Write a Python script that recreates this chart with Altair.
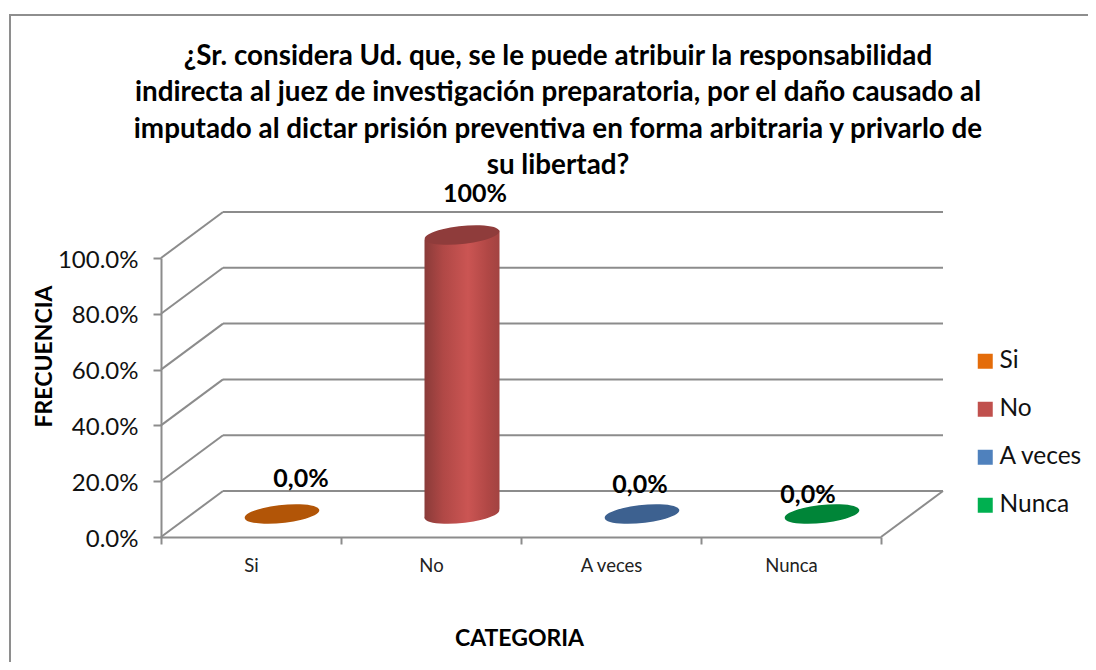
import math
import altair as alt
import pandas as pd

categories = ["Si", "No", "A veces", "Nunca"]
values = [0.0, 1.0, 0.0, 0.0]
label_texts = ["0,0%", "100%", "0,0%", "0,0%"]
legend_colors = ["#E46C0A", "#C0504D", "#4F81BD", "#00B050"]
disc_colors = ["#B25507", "#8F3C3B", "#3D6190", "#008538"]
levels = [0.0, 0.2, 0.4, 0.6, 0.8, 1.0]
title_lines = [
    "¿Sr. considera Ud. que, se le puede atribuir la responsabilidad",
    "indirecta al juez de investigación preparatoria, por el daño causado al",
    "imputado al dictar prisión preventiva en forma arbitraria y privarlo de",
    "su libertad?",
]

FONT = "Lato"
GRID = "#8C8C8C"
DEPTH_X = 62 / 180
DEPTH_Y = 46 / 279
HALF_W = 37.5 / 180
TILT_Y = 4.5 / 279

xq = alt.Scale(domain=[0, 4], nice=False, zero=False)
yq = alt.Scale(domain=[0, 1], nice=False, zero=False)

y_axis = alt.Axis(values=levels, format=".1%", labelFont=FONT, labelFontSize=24, labelColor="#111111",
                  labelPadding=15, labelOffset=2, tickSize=8, tickColor=GRID, tickWidth=2, domainColor=GRID,
                  domainWidth=2, grid=False, titleFont=FONT, titleFontSize=23, titleFontWeight="bold",
                  titleColor="#000000", titleX=-117, titleY=98, titleBaseline="middle", titleAngle=270,
                  titleAnchor="middle")

def X(f):
    return alt.X(f, type="quantitative", scale=xq, axis=None)

def Y(f):
    return alt.Y(f, type="quantitative", scale=yq, title="FRECUENCIA", axis=y_axis)

th = math.radians(6)
ex, ey = math.cos(th), math.sin(th)
DISC = f"M{-ex:.4f},{ey:.4f}A1,0.24,-6,1,1,{ex:.4f},{-ey:.4f}A1,0.24,-6,1,1,{-ex:.4f},{ey:.4f}Z"
DISC_SIZE = 75 ** 2

df = pd.DataFrame({"cat": categories, "v": values, "label": label_texts, "i": range(4)})
df["cx"] = df.i + 0.5 + DEPTH_X / 2
df["cy"] = df.v + DEPTH_Y / 2

back = pd.DataFrame({"y": [l + DEPTH_Y for l in levels], "x": DEPTH_X, "x2": 4 + DEPTH_X})
side = pd.DataFrame({"y": levels, "x": 0.0, "x2": DEPTH_X, "y2": [l + DEPTH_Y for l in levels]})
right = pd.DataFrame({"y": [0.0], "x": [4.0], "x2": [4 + DEPTH_X], "y2": [DEPTH_Y]})

back_l = alt.Chart(back).mark_rule(color=GRID, strokeWidth=2).encode(x=X("x"), x2="x2", y=Y("y"))
side_l = alt.Chart(side).mark_rule(color=GRID, strokeWidth=2).encode(x=X("x"), x2="x2", y=Y("y"), y2="y2")
right_l = alt.Chart(right).mark_rule(color=GRID, strokeWidth=2).encode(x=X("x"), x2="x2", y=Y("y"), y2="y2")

frame_v = alt.Chart(pd.DataFrame({"a": [0]})).mark_rule(color="#8E8E8E", strokeWidth=2).encode(
    x=alt.value(-151), y=alt.value(-243), y2=alt.value(404))
frame_h = alt.Chart(pd.DataFrame({"a": [0]})).mark_rule(color="#8E8E8E", strokeWidth=2).encode(
    x=alt.value(-152), x2=alt.value(927), y=alt.value(-243))

# x axis on a band scale, ticks between the categories
axis_l = alt.Chart(df).mark_point(opacity=0).encode(
    x=alt.X("cat:N", sort=categories, title="CATEGORIA",
            scale=alt.Scale(type="band", domain=categories, paddingInner=0, paddingOuter=0),
            axis=alt.Axis(tickBand="extent", labelAngle=0, labelFont=FONT, labelFontSize=18.5, labelColor="#222222",
                          labelPadding=12, tickSize=7, tickColor=GRID, tickWidth=2, domainColor=GRID, domainWidth=2,
                          grid=False, titleFont=FONT, titleFontSize=23, titleFontWeight="bold", titleColor="#000000",
                          titleX=358, titleY=101, titleBaseline="middle", titleAnchor="middle")),
    y=Y("v"),
)

legend_l = alt.Chart(df).mark_point(opacity=0, filled=True).encode(
    x=X("cx"), y=Y("cy"),
    color=alt.Color("cat:N", sort=categories,
                    scale=alt.Scale(domain=categories, range=legend_colors),
                    legend=alt.Legend(orient="none", legendX=812, legendY=91, title=None, symbolType="square",
                                      symbolSize=225, symbolOpacity=1, symbolStrokeWidth=0,
                                      labelFont=FONT, labelFontSize=24.5, labelColor="#111111",
                                      labelOffset=2, rowPadding=23)),
)

# cylinder of the non-zero bar
body = []
for _, r in df[df.v > 0].iterrows():
    body.append({"x": r.cx - HALF_W, "y": r.cy - TILT_Y, "y2": DEPTH_Y / 2 - TILT_Y})
    body.append({"x": r.cx + HALF_W, "y": r.cy + TILT_Y, "y2": DEPTH_Y / 2 + TILT_Y})
body = pd.DataFrame(body)
grad = alt.LinearGradient(gradient="linear", x1=0, x2=1, y1=0, y2=0, stops=[
    alt.GradientStop(offset=0, color="#8A3B39"),
    alt.GradientStop(offset=0.25, color="#B04846"),
    alt.GradientStop(offset=0.58, color="#CB5553"),
    alt.GradientStop(offset=0.85, color="#B04745"),
    alt.GradientStop(offset=1, color="#A24341"),
])
body_l = alt.Chart(body).mark_area(color=grad).encode(x=X("x"), y=Y("y"), y2="y2")
foot = df[df.v > 0].assign(cy=DEPTH_Y / 2)
foot_l = alt.Chart(foot).mark_point(shape=DISC, size=DISC_SIZE, filled=True, opacity=1, color=grad, strokeWidth=0).encode(
    x=X("cx"), y=Y("cy"))
disc_l = alt.Chart(df).mark_point(shape=DISC, size=DISC_SIZE, filled=True, opacity=1, strokeWidth=0).encode(
    x=X("cx"), y=Y("cy"),
    fill=alt.Fill("cat:N", sort=categories, scale=alt.Scale(domain=categories, range=disc_colors), legend=None))

label_shift = {"Si": (19, -35), "No": (13, -41), "A veces": (-2, -29), "Nunca": (-14, -19)}
labels = [
    alt.Chart(df[df.cat == c]).mark_text(font=FONT, fontSize=25, fontWeight="bold", color="#000000",
                                        dx=s[0], dy=s[1], baseline="middle", align="center").encode(
        x=X("cx"), y=Y("cy"), text="label:N")
    for c, s in label_shift.items()
]

chart = alt.layer(frame_v, frame_h, back_l, side_l, right_l, axis_l, legend_l, foot_l, body_l, disc_l, *labels).resolve_scale(
    x="independent", color="independent", fill="independent"
).properties(
    width=720, height=279,
    padding={"left": 153, "top": 250, "right": 207, "bottom": 125},
    autosize=alt.AutoSizeParams(type="none"),
    background="#FFFFFF",
    title=alt.TitleParams(text=title_lines, font=FONT, fontSize=27.8, fontWeight="bold", color="#000000",
                          anchor="middle", frame="group", dx=37, dy=166, offset=0, lineHeight=36.5),
).configure_view(stroke=None)

chart.save("out.html", embed_options={"renderer": "svg", "actions": False})
